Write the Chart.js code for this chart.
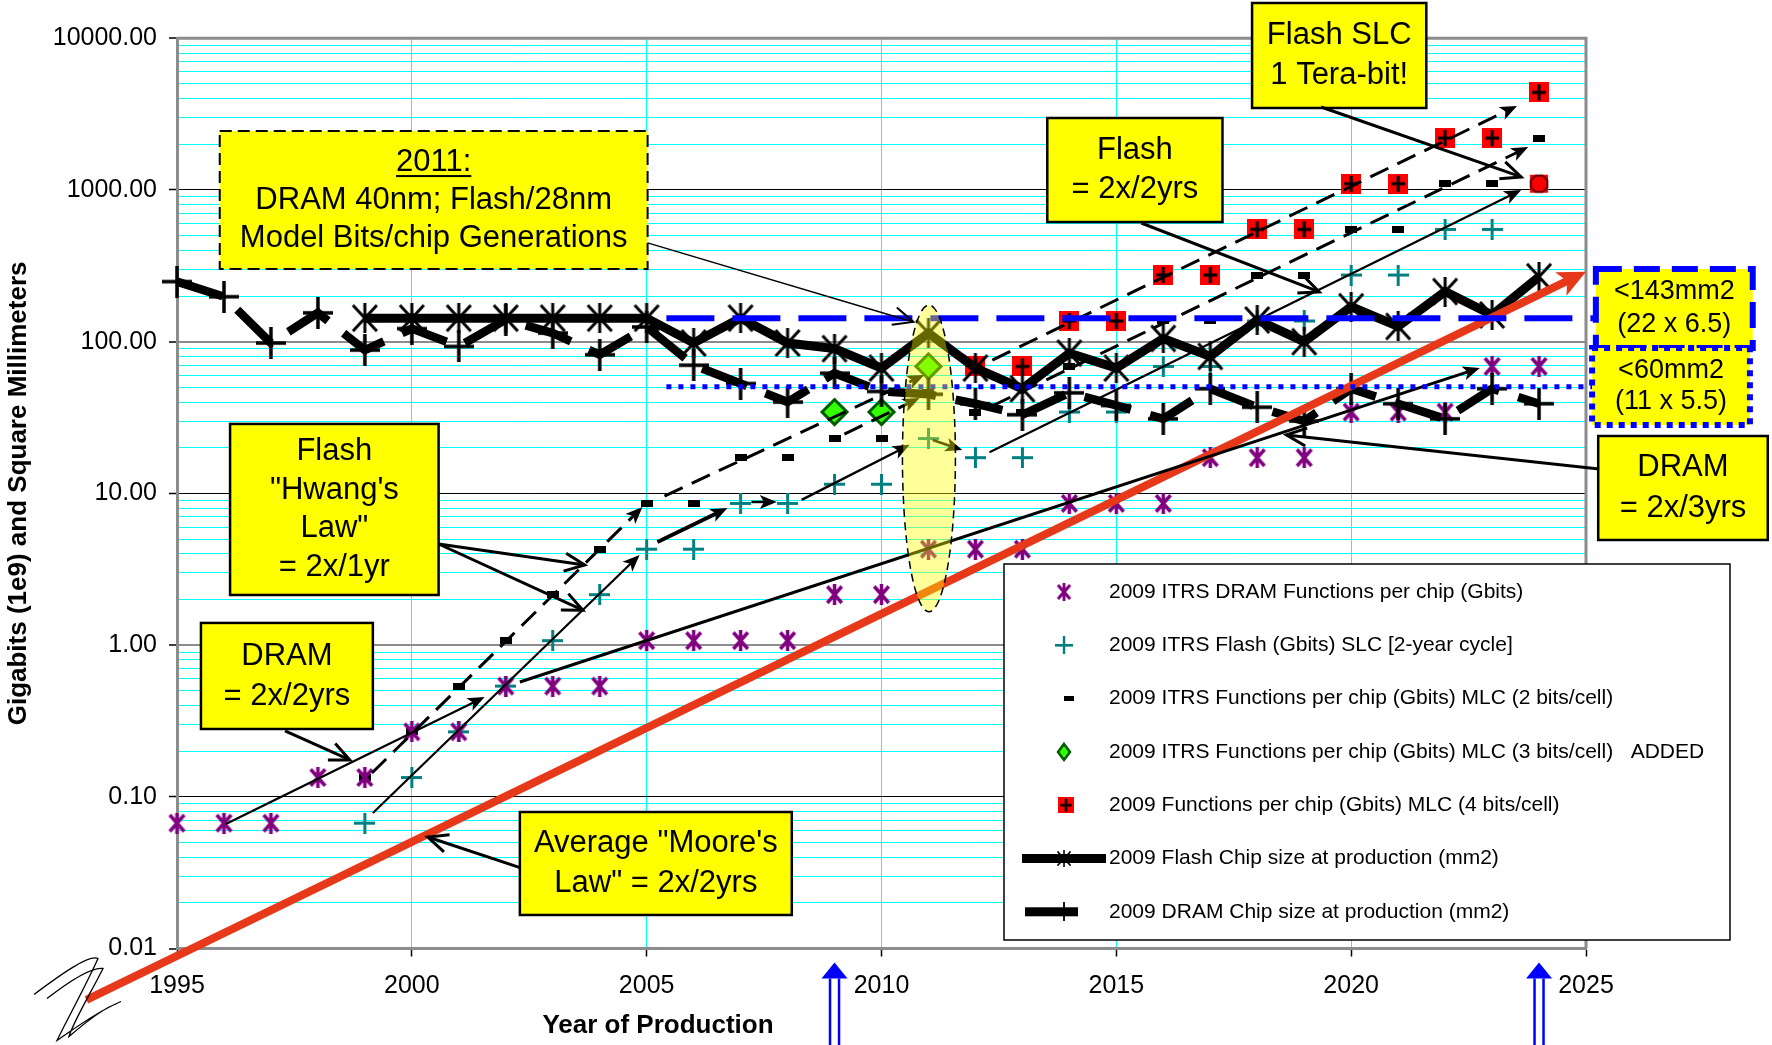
<!DOCTYPE html>
<html>
<head>
<meta charset="utf-8">
<script src="https://cdn.jsdelivr.net/npm/chart.js@4.4.1/dist/chart.umd.min.js"></script>
<style>
  html, body { margin: 0; padding: 0; background: #fff; }
  #wrap { width: 1772px; height: 1045px; }
</style>
</head>
<body>
<div id="wrap"><canvas id="chart" width="1772" height="1045"></canvas></div>
<script>
// ---------------- data ----------------
const years = [1995,1996,1997,1998,1999,2000,2001,2002,2003,2004,2005,2006,2007,2008,2009,
               2010,2011,2012,2013,2014,2015,2016,2017,2018,2019,2020,2021,2022,2023,2024];

const dramGbits = [0.067,0.067,0.067,0.134,0.134,0.268,0.268,0.537,0.537,0.537,1.07,1.07,1.07,1.07,2.15,
                   2.15,4.29,4.29,4.29,8.59,8.59,8.59,17.18,17.18,17.18,34.36,34.36,34.36,68.72,68.72];

const flashSlcGbits = [null,null,null,null,0.067,0.134,0.268,0.537,1.07,2.15,4.29,4.29,8.59,8.59,11.5,
                       11.5,23,17.2,17.2,34.4,34.4,68.7,68.7,137,137,275,275,550,550,1100];

const mlc2Gbits = [null,null,null,null,0.134,0.268,0.537,1.07,2.15,4.29,8.59,8.59,17.2,17.2,23,
                   23,46,34.4,34.4,68.7,68.7,137,137,275,275,550,550,1100,1100,2199];

const mlc3Gbits = [null,null,null,null,null,null,null,null,null,null,null,null,null,null,34.4,
                   34.4,68.7,null,null,null,null,null,null,null,null,null,null,null,null,null];

const mlc4Gbits = [null,null,null,null,null,null,null,null,null,null,null,null,null,null,null,
                   null,null,68.7,68.7,137,137,275,275,550,550,1100,1100,2199,2199,4398];

const flashChipMm2 = [null,null,null,null,143,143,143,143,143,143,143,98,143,98,90,
                      67,114,67,49,84,67,105,80,139,100,170,126,214,150,268];

const dramChipMm2 = [249,198,98,155,88,122,93,140,114,82,125,70,53,40,62,
                     47,45,39,33,46,38,31,49,37,30,49,39,31,49,39];

const seriesLabels = [
  '2009 ITRS DRAM Functions per chip (Gbits)',
  '2009 ITRS Flash (Gbits) SLC [2-year cycle]',
  '2009 ITRS Functions per chip (Gbits) MLC (2 bits/cell)',
  '2009 ITRS Functions per chip (Gbits) MLC (3 bits/cell)   ADDED',
  '2009 Functions per chip (Gbits) MLC (4 bits/cell)',
  '2009 Flash Chip size at production (mm2)',
  '2009 DRAM Chip size at production (mm2)'
];

const xTickYears = [1995, 2000, 2005, 2010, 2015, 2020, 2025];
const yDecades = [0.01, 0.1, 1, 10, 100, 1000, 10000];
const yTickLabels = ['0.01', '0.10', '1.00', '10.00', '100.00', '1000.00', '10000.00'];

const xTitle = 'Year of Production';
const yTitle = 'Gigabits (1e9) and Square Millimeters';

// Trend "laws": [fromYear, fromValue, toYear, toValue]
const mooreLaw = [1993.07, 0.00458, 2025.0, 289];

// ---------------- annotation geometry (year / value space) ----------------
// [fromYear, fromValue, toYear, toValue, lineWidth, dashed]
const trendArrows = [
  [1996.04, 0.0662, 2001.55, 0.455, 2.2, false],
  [2002.30, 0.571, 2022.74, 67.1, 3, false],
  [1999.17, 0.0782, 2004.85, 3.93, 2.2, false],
  [2005.23, 4.78, 2006.72, 8.01, 4, false],
  [2007.23, 8.78, 2007.77, 8.78, 2.5, false],
  [2008.30, 9.05, 2010.60, 20.9, 2.5, false],
  [2011.09, 22.5, 2011.72, 19.3, 2.5, false],
  [2012.30, 18.7, 2023.62, 1000, 2.2, false],
  [1999.15, 0.1435, 2004.91, 8.13, 3, true],
  [2005.38, 9.61, 2010.91, 60.3, 3, true],
  [2012.36, 75.7, 2023.53, 3581, 3, true],
  [2009.21, 24.6, 2010.81, 42.6, 3, true],
  [2012.36, 37.7, 2023.77, 1919, 3, true]
];

// [fromYear, fromValue, toYear, toValue, lineWidth]
const pointerArrows = [
  [2005.02, 448, 2010.68, 135, 1.5],
  [2015.53, 606, 2019.32, 213, 3],
  [2019.36, 3524, 2023.62, 1219, 3],
  [2000.57, 4.64, 2003.68, 3.37, 3],
  [2000.57, 4.64, 2003.64, 1.70, 3],
  [1997.30, 0.2716, 1998.68, 0.175, 3],
  [2002.32, 0.034, 2000.34, 0.0543, 3],
  [2025.28, 14.5, 2018.62, 24.3, 3]
];

const textBoxes = [
  {x1: 1995.91, v1: 2449, x2: 2005.02, v2: 301, lines: ['2011:', 'DRAM 40nm; Flash/28nm', 'Model Bits/chip Generations'], size: 31, lh: 38, border: 'dash', underlineFirst: true},
  {x1: 2013.53, v1: 2983, x2: 2017.26, v2: 615, lines: ['Flash', '= 2x/2yrs'], size: 31, lh: 39},
  {x1: 2017.89, v1: 17090, x2: 2021.60, v2: 3472, lines: ['Flash SLC', '1 Tera-bit!'], size: 31, lh: 40},
  {x1: 1996.13, v1: 28.7, x2: 2000.57, v2: 2.14, lines: ['Flash', '"Hwang\'s', 'Law"', '= 2x/1yr'], size: 31, lh: 38.7},
  {x1: 1995.51, v1: 1.40, x2: 1999.17, v2: 0.2799, lines: ['DRAM', '= 2x/2yrs'], size: 31, lh: 40},
  {x1: 2002.30, v1: 0.0794, x2: 2008.09, v2: 0.01663, lines: ['Average "Moore\'s', 'Law" = 2x/2yrs'], size: 31, lh: 40},
  {x1: 2025.26, v1: 23.9, x2: 2028.87, v2: 4.93, lines: ['DRAM', '= 2x/3yrs'], size: 31, lh: 41},
  {x1: 2025.21, v1: 301.5, x2: 2028.55, v2: 90.9, lines: ['<143mm2', '(22 x 6.5)'], size: 27, lh: 33, border: 'blueDash'},
  {x1: 2025.13, v1: 90.9, x2: 2028.49, v2: 28.25, lines: ['<60mm2', '(11 x 5.5)'], size: 27, lh: 31, border: 'blueDot'}
];

const sizeLimitDash = {from: 2005.42, to: 2025.21, value: 142.6};
const sizeLimitDot = {from: 2005.42, to: 2025.13, value: 50.5};
const focusEllipse = {year: 2011.01, halfYears: 0.564, top: 174.6, bottom: 1.66};
const productionYears = [2009, 2024];

// ---------------- marker images ----------------
const FONT = "'Liberation Sans', Arial, Helvetica, sans-serif";
function makeMarker(w, h, draw) {
  const c = document.createElement('canvas');
  c.width = w; c.height = h;
  draw(c.getContext('2d'), w, h);
  return c;
}
function asterisk(color, w, h, lw) {
  return makeMarker(w, h, (g) => {
    g.strokeStyle = color; g.lineWidth = lw; g.lineCap = 'butt';
    const p = lw / 2 + 0.5;
    g.beginPath();
    g.moveTo(p, p); g.lineTo(w - p, h - p);
    g.moveTo(w - p, p); g.lineTo(p, h - p);
    g.moveTo(w / 2, 0); g.lineTo(w / 2, h);
    g.stroke();
  });
}
function plus(color, w, h, lw) {
  return makeMarker(w, h, (g) => {
    g.strokeStyle = color; g.lineWidth = lw;
    g.beginPath();
    g.moveTo(0, h / 2); g.lineTo(w, h / 2);
    g.moveTo(w / 2, 0); g.lineTo(w / 2, h);
    g.stroke();
  });
}
const dramStar = asterisk('#800080', 19, 21, 3.5);
const slcPlus = plus('#008080', 21, 21, 3);
const flashStar = asterisk('#000', 28, 30, 3);
const dramPlus = plus('#000', 30, 32, 3.5);
const mlcDash = makeMarker(12, 7, (g, w, h) => { g.fillStyle = '#000'; g.fillRect(0, 0, w, h); });
const redPlus = makeMarker(20, 20, (g, w, h) => {
  g.fillStyle = '#ff0000'; g.fillRect(0, 0, w, h);
  g.strokeStyle = '#000'; g.lineWidth = 3;
  g.beginPath(); g.moveTo(3, h / 2); g.lineTo(w - 3, h / 2); g.moveTo(w / 2, 2); g.lineTo(w / 2, h - 2); g.stroke();
});
const teraMark = makeMarker(22, 22, (g) => {
  g.fillStyle = '#ff0000'; g.fillRect(2, 2, 18, 18);
  g.beginPath();
  for (let k = 0; k < 8; k++) {
    const a = Math.PI / 8 + k * Math.PI / 4;
    const px = 11 + 9 * Math.cos(a), py = 11 + 9 * Math.sin(a);
    if (k === 0) g.moveTo(px, py); else g.lineTo(px, py);
  }
  g.closePath();
  g.fillStyle = '#ff0000'; g.fill();
  g.lineWidth = 2; g.strokeStyle = '#5a0000'; g.stroke();
});

// ---------------- datasets ----------------
const pts = arr => years.map((yr, i) => ({x: yr, y: arr[i]})).filter(p => p.y !== null);
const slcPts = pts(flashSlcGbits);

const datasets = [
  {label: seriesLabels[0], data: pts(dramGbits), showLine: false, pointStyle: dramStar, order: 2},
  {label: seriesLabels[1], data: slcPts, showLine: false,
   pointStyle: c => (c.dataIndex === slcPts.length - 1 ? teraMark : slcPlus), order: 2},
  {label: seriesLabels[2], data: pts(mlc2Gbits), showLine: false, pointStyle: mlcDash, order: 2},
  {label: seriesLabels[3], data: pts(mlc3Gbits), showLine: false, pointStyle: 'rectRot', pointRadius: 12.5,
   pointBackgroundColor: '#33ff00', pointBorderColor: '#005a00', pointBorderWidth: 3, order: 2},
  {label: seriesLabels[4], data: pts(mlc4Gbits), showLine: false, pointStyle: redPlus, order: 2},
  {label: seriesLabels[5], data: pts(flashChipMm2), showLine: true, borderColor: '#000', borderWidth: 9,
   pointStyle: flashStar, order: 0},
  {label: seriesLabels[6], data: pts(dramChipMm2), showLine: true, borderColor: '#000', borderWidth: 8.5,
   borderDash: [48, 20], pointStyle: dramPlus, order: 1}
];
datasets.forEach(d => { d.clip = 30; d.tension = 0; d.fill = false; });

// ---------------- helpers ----------------
function isDecade(v) {
  const e = Math.log10(v);
  return Math.abs(e - Math.round(e)) < 1e-6;
}
function arrow(ctx, x1, y1, x2, y2, o) {
  const ang = Math.atan2(y2 - y1, x2 - x1);
  const hl = o.head || 18, hw = o.hw || 7;
  const cos = Math.cos(ang), sin = Math.sin(ang);
  ctx.save();
  ctx.strokeStyle = o.color || '#000';
  ctx.fillStyle = o.color || '#000';
  ctx.lineWidth = o.w;
  ctx.setLineDash(o.dash || []);
  const ex = o.filled ? x2 - cos * hl * 0.7 : x2;
  const ey = o.filled ? y2 - sin * hl * 0.7 : y2;
  ctx.beginPath(); ctx.moveTo(x1, y1); ctx.lineTo(ex, ey); ctx.stroke();
  ctx.setLineDash([]);
  const bx = x2 - cos * hl, by = y2 - sin * hl;
  const px = -sin * hw, py = cos * hw;
  if (o.filled) {
    ctx.beginPath(); ctx.moveTo(x2, y2); ctx.lineTo(bx + px, by + py);
    ctx.lineTo(x2 - cos * hl * 0.75, y2 - sin * hl * 0.75);
    ctx.lineTo(bx - px, by - py); ctx.closePath(); ctx.fill();
  } else {
    ctx.lineWidth = Math.max(o.w, 2);
    ctx.beginPath(); ctx.moveTo(bx + px, by + py); ctx.lineTo(x2, y2); ctx.lineTo(bx - px, by - py); ctx.stroke();
  }
  ctx.restore();
}

// ---------------- overlay plugin ----------------
const overlay = {
  id: 'overlay',
  beforeDatasetsDraw(chart) {
    const {ctx, chartArea: ca} = chart;
    ctx.save();
    ctx.strokeStyle = '#8c8c8c'; ctx.lineWidth = 3;
    ctx.beginPath();
    ctx.moveTo(ca.left, ca.top); ctx.lineTo(ca.right, ca.top); ctx.lineTo(ca.right, ca.bottom);
    ctx.stroke();
    ctx.restore();
  },
  afterDatasetsDraw(chart) {
    const {ctx, chartArea: ca, scales: {x, y}} = chart;
    const X = v => x.getPixelForValue(v), Y = v => y.getPixelForValue(v);

    // Moore's law reference (thick red arrow)
    {
      const [y1, v1, y2, v2] = mooreLaw;
      arrow(ctx, X(y1), Y(v1), X(y2), Y(v2), {w: 8, color: '#e8381a', filled: true, head: 28, hw: 13});
    }

    // trend arrows
    trendArrows.forEach(([a, b, c, d, w, dashed]) => {
      arrow(ctx, X(a), Y(b), X(c), Y(d), {w, dash: dashed ? [20, 10] : [], filled: true, head: 17, hw: 7});
    });

    // chip-size limits
    ctx.save();
    ctx.strokeStyle = '#0000ff';
    ctx.lineWidth = 6; ctx.setLineDash([48, 18]);
    ctx.beginPath();
    ctx.moveTo(X(sizeLimitDash.from), Y(sizeLimitDash.value)); ctx.lineTo(X(sizeLimitDash.to), Y(sizeLimitDash.value));
    ctx.stroke();
    ctx.lineWidth = 5; ctx.setLineDash([5, 7]);
    ctx.beginPath();
    ctx.moveTo(X(sizeLimitDot.from), Y(sizeLimitDot.value)); ctx.lineTo(X(sizeLimitDot.to), Y(sizeLimitDot.value));
    ctx.stroke();
    ctx.restore();

    // 2011 highlight ellipse
    {
      const cx = X(focusEllipse.year);
      const rx = X(focusEllipse.year + focusEllipse.halfYears) - cx;
      const yt = Y(focusEllipse.top), yb = Y(focusEllipse.bottom);
      ctx.save();
      ctx.beginPath();
      ctx.ellipse(cx, (yt + yb) / 2, rx, (yb - yt) / 2, 0, 0, Math.PI * 2);
      ctx.fillStyle = 'rgba(255,255,0,0.4)';
      ctx.fill();
      ctx.setLineDash([8, 5]); ctx.lineWidth = 1.5; ctx.strokeStyle = '#000';
      ctx.stroke();
      ctx.restore();
    }
  },
  afterDraw(chart) {
    const {ctx, chartArea: ca, scales: {x, y}} = chart;
    const X = v => x.getPixelForValue(v), Y = v => y.getPixelForValue(v);

    // text boxes
    textBoxes.forEach(b => {
      const l = X(b.x1), r = X(b.x2), t = Y(b.v1), btm = Y(b.v2);
      ctx.save();
      ctx.fillStyle = '#ffff00';
      ctx.fillRect(l, t, r - l, btm - t);
      if (b.border === 'blueDash') {
        ctx.strokeStyle = '#0000ff'; ctx.lineWidth = 6; ctx.setLineDash([26, 12]);
      } else if (b.border === 'blueDot') {
        ctx.strokeStyle = '#0000ff'; ctx.lineWidth = 6; ctx.setLineDash([6, 6]);
      } else if (b.border === 'dash') {
        ctx.strokeStyle = '#000'; ctx.lineWidth = 2; ctx.setLineDash([12, 6]);
      } else {
        ctx.strokeStyle = '#000'; ctx.lineWidth = 2.5;
      }
      ctx.strokeRect(l, t, r - l, btm - t);
      ctx.setLineDash([]);
      ctx.fillStyle = '#000';
      ctx.font = b.size + 'px ' + FONT;
      ctx.textAlign = 'center'; ctx.textBaseline = 'middle';
      const cx = (l + r) / 2, cy = (t + btm) / 2;
      const n = b.lines.length;
      b.lines.forEach((s, i) => {
        const ly = cy + (i - (n - 1) / 2) * b.lh;
        ctx.fillText(s, cx, ly);
        if (i === 0 && b.underlineFirst) {
          const w = ctx.measureText(s).width;
          ctx.fillRect(cx - w / 2, ly + b.size * 0.42, w, 2);
        }
      });
      ctx.restore();
    });

    // call-out pointers
    pointerArrows.forEach(([a, b, c, d, w]) => {
      arrow(ctx, X(a), Y(b), X(c), Y(d), {w, filled: false, head: 20, hw: 9});
    });

    // production-year markers below the axis
    productionYears.forEach(yr => {
      const px = X(yr), top = ca.bottom + 14, base = top + 16, end = chart.height;
      ctx.save();
      ctx.fillStyle = '#0000ff'; ctx.strokeStyle = '#0000ff'; ctx.lineWidth = 2.5;
      ctx.beginPath(); ctx.moveTo(px, top); ctx.lineTo(px + 13, base); ctx.lineTo(px - 13, base); ctx.closePath(); ctx.fill();
      ctx.beginPath();
      ctx.moveTo(px - 4.5, base); ctx.lineTo(px - 4.5, end);
      ctx.moveTo(px + 4.5, base); ctx.lineTo(px + 4.5, end);
      ctx.stroke();
      ctx.restore();
    });

    // axis break squiggle
    {
      const L = ca.left, B = ca.bottom;
      ctx.save();
      ctx.strokeStyle = '#000'; ctx.lineWidth = 1.3;
      ctx.beginPath();
      ctx.moveTo(L - 143, B + 46);
      ctx.bezierCurveTo(L - 115, B + 25, L - 88, B + 6, L - 79, B + 10);
      ctx.bezierCurveTo(L - 90, B + 35, L - 112, B + 75, L - 120, B + 92);
      ctx.bezierCurveTo(L - 105, B + 82, L - 82, B + 64, L - 56, B + 53);
      ctx.moveTo(L - 130, B + 50);
      ctx.bezierCurveTo(L - 108, B + 33, L - 85, B + 18, L - 74, B + 20);
      ctx.bezierCurveTo(L - 86, B + 44, L - 104, B + 74, L - 108, B + 88);
      ctx.bezierCurveTo(L - 94, B + 76, L - 75, B + 60, L - 60, B + 55);
      ctx.stroke();
      ctx.restore();
    }

    // axis titles
    ctx.save();
    ctx.fillStyle = '#000';
    ctx.font = 'bold 26px ' + FONT;
    ctx.textAlign = 'center'; ctx.textBaseline = 'middle';
    ctx.fillText(xTitle, 658, 1026);
    ctx.translate(19, (ca.top + ca.bottom) / 2);
    ctx.rotate(-Math.PI / 2);
    ctx.fillText(yTitle, 0, 0);
    ctx.restore();

    // legend
    const lg = {l: 1004, t: 564, r: 1730, b: 940, textX: 1109, markX: 1064, rowY: 592, step: 53.3};
    ctx.save();
    ctx.fillStyle = '#fff';
    ctx.fillRect(lg.l, lg.t, lg.r - lg.l, lg.b - lg.t);
    ctx.strokeStyle = '#000'; ctx.lineWidth = 1.5;
    ctx.strokeRect(lg.l, lg.t, lg.r - lg.l, lg.b - lg.t);
    const drawImg = (img, cx, cy, s) => ctx.drawImage(img, cx - img.width * s / 2, cy - img.height * s / 2, img.width * s, img.height * s);
    seriesLabels.forEach((lab, i) => {
      const ry = lg.rowY + i * lg.step;
      const mx = lg.markX;
      if (i === 0) drawImg(dramStar, mx, ry, 0.85);
      if (i === 1) drawImg(slcPlus, mx, ry, 0.85);
      if (i === 2) drawImg(mlcDash, mx + 5, ry, 0.8);
      if (i === 3) {
        ctx.beginPath();
        ctx.moveTo(mx, ry - 8); ctx.lineTo(mx + 6, ry); ctx.lineTo(mx, ry + 8); ctx.lineTo(mx - 6, ry); ctx.closePath();
        ctx.fillStyle = '#33ff00'; ctx.fill(); ctx.strokeStyle = '#005a00'; ctx.lineWidth = 2.5; ctx.stroke();
      }
      if (i === 4) drawImg(redPlus, mx + 2, ry, 0.8);
      if (i === 5) {
        ctx.fillStyle = '#000';
        ctx.fillRect(1022, ry - 4.5, 84, 9);
        drawImg(flashStar, mx, ry, 0.55);
      }
      if (i === 6) {
        ctx.fillStyle = '#000';
        ctx.fillRect(1025, ry - 4.5, 53, 9);
        drawImg(dramPlus, mx, ry, 0.6);
      }
      ctx.fillStyle = '#000';
      ctx.font = '21px ' + FONT;
      ctx.textAlign = 'left'; ctx.textBaseline = 'middle';
      ctx.fillText(lab, lg.textX, ry);
    });
    ctx.restore();
  }
};

// ---------------- chart ----------------
Chart.defaults.font.family = FONT;
Chart.defaults.color = '#000';

const yGridValues = [];
yDecades.forEach((d, i) => {
  if (i === yDecades.length - 1) { yGridValues.push(d); return; }
  for (let m = 1; m <= 9; m++) yGridValues.push(Number((m * d).toPrecision(6)));
});

new Chart(document.getElementById('chart'), {
  type: 'line',
  data: {datasets},
  options: {
    responsive: false,
    animation: false,
    events: [],
    layout: {padding: {top: 38.3, right: 186, left: 0, bottom: 0}},
    plugins: {legend: {display: false}, tooltip: {enabled: false}, title: {display: false}},
    scales: {
      x: {
        type: 'linear', min: 1995, max: 2025,
        afterBuildTicks: s => { s.ticks = xTickYears.map(v => ({value: v})); },
        afterFit: s => { s.height = 96.5; },
        ticks: {autoSkip: false, maxRotation: 0, padding: 15, font: {size: 25},
                callback: v => String(v)},
        grid: {color: '#00ffff', lineWidth: 1, tickColor: '#000', tickLength: 8, tickWidth: 1.5},
        border: {color: '#8c8c8c', width: 3}
      },
      y: {
        type: 'logarithmic', min: 0.01, max: 10000,
        afterBuildTicks: s => { s.ticks = yGridValues.map(v => ({value: v})); },
        afterFit: s => { s.width = 177; },
        ticks: {autoSkip: false, padding: 12, font: {size: 25},
                callback: v => { const k = yDecades.findIndex(d => Math.abs(d - v) < d * 1e-6); return k >= 0 ? yTickLabels[k] : ''; }},
        grid: {
          color: c => {
            const v = c.tick && c.tick.value;
            if (!v) return '#00ffff';
            if (isDecade(v)) return Math.round(Math.log10(v)) % 2 === 0 ? '#8c8c8c' : '#000';
            return '#00ffff';
          },
          lineWidth: c => {
            const v = c.tick && c.tick.value;
            if (v && isDecade(v)) return Math.round(Math.log10(v)) % 2 === 0 ? 2 : 1;
            return 1;
          },
          tickColor: c => { const v = c.tick && c.tick.value; return v && isDecade(v) ? '#000' : 'rgba(0,0,0,0)'; },
          tickLength: 8, tickWidth: 1.5
        },
        border: {color: '#8c8c8c', width: 3}
      }
    }
  },
  plugins: [overlay]
});
</script>
</body>
</html>
